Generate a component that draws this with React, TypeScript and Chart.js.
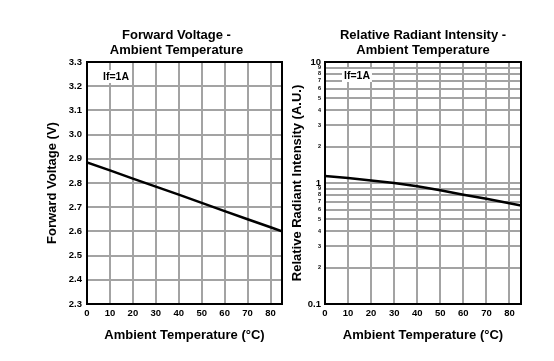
import React, { useEffect, useRef } from "react";
import { Chart, registerables } from "chart.js";

Chart.register(...registerables);

// ---- data ----
const temps = [0, 10, 20, 30, 40, 50, 60, 70, 80, 85];
const forwardVoltage = [2.885, 2.852, 2.818, 2.785, 2.752, 2.718, 2.684, 2.65, 2.617, 2.6];
const radiantIntensity = [1.14, 1.1, 1.05, 1.0, 0.94, 0.87, 0.8, 0.74, 0.68, 0.65];

const xTicks = [0, 10, 20, 30, 40, 50, 60, 70, 80];
const vfTicks = [2.3, 2.4, 2.5, 2.6, 2.7, 2.8, 2.9, 3.0, 3.1, 3.2, 3.3];
const logTicks = [0.1, 0.2, 0.3, 0.4, 0.5, 0.6, 0.7, 0.8, 0.9, 1, 2, 3, 4, 5, 6, 7, 8, 9, 10];
const logMajor = [0.1, 1, 10];

const titleLeft = ["Forward Voltage -", "Ambient Temperature"];
const titleRight = ["Relative Radiant Intensity -", "Ambient Temperature"];
const xTitle = "Ambient Temperature (°C)";
const yTitleLeft = "Forward Voltage (V)";
const yTitleRight = "Relative Radiant Intensity (A.U.)";
const noteText = "If=1A";

const FAMILY = "Arial, 'Liberation Sans', sans-serif";
const GRID = "#a3a3a3";
const TICK_SIZE = 9.5;

function decorPlugin(title: string[], titleDx: number, noteDx: number, noteDy: number) {
  return {
    id: "decor",
    afterDraw(chart: any) {
      const { ctx, chartArea } = chart;
      const a = chartArea;
      ctx.save();
      // frame
      ctx.strokeStyle = "#000";
      ctx.lineWidth = 2;
      ctx.strokeRect(a.left, a.top, a.right - a.left, a.bottom - a.top);
      // title
      ctx.fillStyle = "#000";
      ctx.font = `bold 13px ${FAMILY}`;
      ctx.textAlign = "center";
      ctx.textBaseline = "alphabetic";
      const cx = (a.left + a.right) / 2 + titleDx;
      title.forEach((t, i) => ctx.fillText(t, cx, 39 + i * 15));
      // note
      ctx.font = `bold 10.5px ${FAMILY}`;
      ctx.textAlign = "left";
      const w = ctx.measureText(noteText).width;
      const nx = a.left + noteDx;
      const ny = a.top + noteDy;
      ctx.fillStyle = "#fff";
      ctx.fillRect(nx - 2, ny - 10, w + 4, 13);
      ctx.fillStyle = "#000";
      ctx.fillText(noteText, nx, ny);
      ctx.restore();
    },
  };
}

function xScale() {
  return {
    type: "linear",
    min: 0,
    max: 85,
    afterBuildTicks: (s: any) => {
      s.ticks = xTicks.map((v) => ({ value: v }));
    },
    afterFit: (s: any) => {
      s.height = 57;
    },
    grid: { color: GRID, lineWidth: 2, drawTicks: false },
    border: { display: false },
    ticks: {
      autoSkip: false,
      maxRotation: 0,
      padding: 4,
      color: "#000",
      font: { family: FAMILY, size: TICK_SIZE, weight: "bold" },
    },
    title: {
      display: true,
      text: xTitle,
      color: "#000",
      font: { family: FAMILY, size: 13, weight: "bold", lineHeight: 1.2 },
      padding: { top: 0, bottom: 18 },
    },
  };
}

function leftConfig(): any {
  return {
    type: "line",
    data: {
      datasets: [
        {
          data: temps.map((t, i) => ({ x: t, y: forwardVoltage[i] })),
          borderColor: "#000",
          borderWidth: 2.5,
          pointRadius: 0,
          tension: 0,
        },
      ],
    },
    options: {
      responsive: false,
      animation: false,
      devicePixelRatio: 1,
      layout: { padding: { left: 0, right: 18, top: 62, bottom: 0 } },
      plugins: { legend: { display: false }, title: { display: false }, tooltip: { enabled: false } },
      scales: {
        x: xScale(),
        y: {
          type: "linear",
          min: 2.3,
          max: 3.3,
          afterBuildTicks: (s: any) => {
            s.ticks = vfTicks.map((v) => ({ value: v }));
          },
          afterFit: (s: any) => {
            s.width = 87;
          },
          grid: { color: GRID, lineWidth: 2, drawTicks: false },
          border: { display: false },
          ticks: {
            autoSkip: false,
            padding: 5,
            color: "#000",
            font: { family: FAMILY, size: TICK_SIZE, weight: "bold" },
            callback: (v: number) => Number(v).toFixed(1),
          },
          title: {
            display: true,
            text: yTitleLeft,
            color: "#000",
            font: { family: FAMILY, size: 13, weight: "bold", lineHeight: 1.2 },
            padding: { top: 45, bottom: 0 },
          },
        },
      },
    },
    plugins: [decorPlugin(titleLeft, -8, 16, 18)],
  };
}

function rightConfig(): any {
  return {
    type: "line",
    data: {
      datasets: [
        {
          data: temps.map((t, i) => ({ x: t, y: radiantIntensity[i] })),
          borderColor: "#000",
          borderWidth: 2.5,
          pointRadius: 0,
          tension: 0,
        },
      ],
    },
    options: {
      responsive: false,
      animation: false,
      devicePixelRatio: 1,
      layout: { padding: { left: 0, right: 33, top: 62, bottom: 0 } },
      plugins: { legend: { display: false }, title: { display: false }, tooltip: { enabled: false } },
      scales: {
        x: xScale(),
        y: {
          type: "logarithmic",
          min: 0.1,
          max: 10,
          afterBuildTicks: (s: any) => {
            s.ticks = logTicks.map((v) => ({ value: v, major: logMajor.includes(v) }));
          },
          afterFit: (s: any) => {
            s.width = 48;
          },
          grid: { color: GRID, lineWidth: 2, drawTicks: false },
          border: { display: false },
          ticks: {
            autoSkip: false,
            padding: 4,
            color: "#000",
            font: (c: any) => ({
              family: FAMILY,
              weight: "bold",
              size: c.tick && logMajor.includes(c.tick.value) ? TICK_SIZE : 5.5,
            }),
            callback: (v: number) => {
              if (logMajor.includes(v)) return String(v);
              const e = Math.floor(Math.log10(v) + 1e-9);
              return String(Math.round(v / Math.pow(10, e)));
            },
          },
          title: {
            display: true,
            text: yTitleRight,
            color: "#000",
            font: { family: FAMILY, size: 13, weight: "bold", lineHeight: 1.2 },
            padding: { top: 13, bottom: 0 },
          },
        },
      },
    },
    plugins: [decorPlugin(titleRight, 0, 19, 17)],
  };
}

function ChartCanvas(props: { make: () => any; left: number; width: number; height: number }) {
  const ref = useRef<HTMLCanvasElement>(null);
  useEffect(() => {
    const chart = new Chart(ref.current as HTMLCanvasElement, props.make());
    return () => chart.destroy();
  }, []);
  return (
    <canvas
      ref={ref}
      width={props.width}
      height={props.height}
      style={{ position: "absolute", left: props.left, top: 0, width: props.width, height: props.height }}
    />
  );
}

export default function App() {
  return (
    <div style={{ position: "fixed", left: 0, top: 0, width: 554, height: 361, background: "#fff" }}>
      <ChartCanvas make={leftConfig} left={0} width={300} height={361} />
      <ChartCanvas make={rightConfig} left={277} width={277} height={361} />
    </div>
  );
}
